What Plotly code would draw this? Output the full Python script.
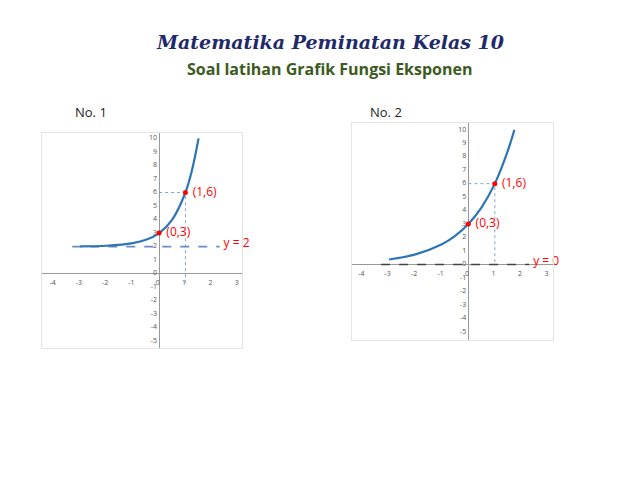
import plotly.graph_objects as go

# Data
x1 = [-3, -2, -1, -0.5, 0, 0.5, 1, 1.25, 1.5]
y1 = [2.02, 2.06, 2.25, 2.5, 3, 4, 6, 7.66, 10]
x2 = [-3, -2, -1, -0.5, 0, 0.5, 1, 1.5, 1.74]
y2 = [0.375, 0.75, 1.5, 2.12, 3, 4.24, 6, 8.49, 10]
pts_x = [0, 1]
pts_y = [3, 6]
pts_lbl = ["(0,3)", "(1,6)"]
xticks = [-4, -3, -2, -1, 0, 1, 2, 3]
yticks = list(range(-5, 11))
asym1 = 2
asym2 = 0

fig = go.Figure()
blue = "#2e75b6"
dash = "#6a8cc0"
O = 8  # page body offset

def panel(xa, ya, xs, ys, asym, asym_col):
    kw = dict(xaxis=xa, yaxis=ya, showlegend=False, hoverinfo="skip", cliponaxis=False)
    fig.add_trace(go.Scatter(x=[t - 0.05 for t in xticks], y=[-0.7] * len(xticks), mode="text",
                             text=[str(t) for t in xticks], textfont=dict(size=7, color="#555"), **kw))
    fig.add_trace(go.Scatter(x=[-0.08] * len(yticks), y=yticks, mode="text", textposition="middle left",
                             text=[str(t) for t in yticks], textfont=dict(size=7, color="#555"), **kw))
    fig.add_trace(go.Scatter(x=[-3.3, 2.3], y=[asym, asym], mode="lines",
                             line=dict(color=asym_col, width=1.6, dash="dash"), **kw))
    fig.add_trace(go.Scatter(x=[2.45], y=[asym + 0.2], mode="text", textposition="middle right",
                             text=[f"y = {asym}"], textfont=dict(size=12, color="red"), **kw))
    fig.add_trace(go.Scatter(x=[0, pts_x[1], pts_x[1]], y=[pts_y[1], pts_y[1], -0.7 if asym else 0],
                             mode="lines", line=dict(color=dash, width=0.8, dash="dot"), **kw))
    fig.add_trace(go.Scatter(x=xs, y=ys, mode="lines", line=dict(color=blue, width=2.2, shape="spline"), **kw))
    fig.add_trace(go.Scatter(x=pts_x, y=pts_y, mode="markers+text", text=[" " + s for s in pts_lbl],
                             textposition="middle right",
                             marker=dict(color="red", size=5), textfont=dict(size=12, color="red"), **kw))

panel("x", "y", x1, y1, asym1, dash)
panel("x2", "y2", x2, y2, asym2, "#444")

W, H = 640, 480
def fx(p): return (p - O) / W
def fy(p): return 1 - (p - O) / H

ax = dict(showgrid=False, showticklabels=False, zeroline=True, zerolinecolor="#999", zerolinewidth=1,
          showline=True, mirror=True, linecolor="#e4e4e4", ticks="")
fig.update_layout(
    width=W, height=H, margin=dict(l=0, r=0, t=0, b=0),
    plot_bgcolor="white", paper_bgcolor="white",
    xaxis=dict(ax, domain=[fx(42), fx(242)], range=[-4.45, 3.15]),
    yaxis=dict(ax, domain=[fy(348), fy(133)], range=[-5.5, 10.4]),
    xaxis2=dict(ax, domain=[fx(352), fx(553)], range=[-4.4, 3.2], anchor="y2"),
    yaxis2=dict(ax, domain=[fy(340), fy(123)], range=[-5.6, 10.5], anchor="x2"),
    annotations=[
        dict(text="<i><b>Matematika Peminatan Kelas 10</b></i>", x=fx(330), y=fy(29), xref="paper", yref="paper",
             showarrow=False, font=dict(family="DejaVu Serif", size=19, color="#1f2a6b")),
        dict(text="<b>Soal latihan Grafik Fungsi Eksponen</b>", x=fx(330), y=fy(56), xref="paper", yref="paper",
             showarrow=False, font=dict(family="Open Sans", size=16, color="#3d5a1e")),
        dict(text="No. 1", x=fx(73), y=fy(101), xref="paper", yref="paper", xanchor="left",
             showarrow=False, font=dict(family="Open Sans", size=13, color="#222")),
        dict(text="No. 2", x=fx(368), y=fy(101), xref="paper", yref="paper", xanchor="left",
             showarrow=False, font=dict(family="Open Sans", size=13, color="#222")),
    ],
)
fig.write_html("out.html")
